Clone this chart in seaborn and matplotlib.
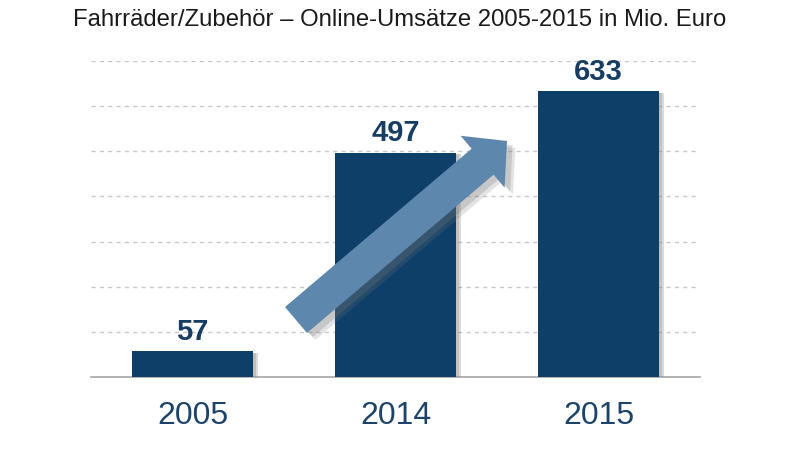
import matplotlib
matplotlib.use("Agg")
import matplotlib.pyplot as plt
import matplotlib.patheffects as pe
from matplotlib.patches import FancyArrow
from matplotlib.transforms import IdentityTransform
import seaborn as sns
import pandas as pd

title = "Fahrräder/Zubehör – Online-Umsätze 2005-2015 in Mio. Euro"
years = ["2005", "2014", "2015"]
values = [57, 497, 633]

bar_color = "#0e3f69"
label_color = "#173d62"
tick_color = "#1d4468"
arrow_color = "#5d87ad"
grid_color = "#c8c8c8"
axis_color = "#a6a6a6"

sns.set_theme(style="white")
plt.rcParams["font.family"] = ["Liberation Sans", "DejaVu Sans"]

df = pd.DataFrame({"year": years, "value": values})

fig = plt.figure(figsize=(8, 4.5), dpi=100)
ax = fig.add_axes([91 / 800, 73 / 450, 609 / 800, 316 / 450])

sns.barplot(data=df, x="year", y="value", color=bar_color, width=0.6,
            saturation=1, ax=ax, zorder=3)

shadow = [pe.SimplePatchShadow(offset=(3, -1), shadow_rgbFace="#888888", alpha=0.3),
          pe.SimplePatchShadow(offset=(2, -1), shadow_rgbFace="#888888", alpha=0.3),
          pe.Normal()]
for p in ax.patches:
    p.set_path_effects(shadow)
    p.set_edgecolor("none")

ax.set_xlim(-0.5, 2.5)
ax.set_ylim(0, 700)
ax.set_yticks(range(100, 701, 100))
ax.yaxis.grid(True, color=grid_color, linestyle=(0, (3, 3)), linewidth=1)
ax.set_axisbelow(True)
ax.tick_params(axis="y", left=False, labelleft=False)
for s in ["left", "top", "right"]:
    ax.spines[s].set_visible(False)
ax.spines["bottom"].set_color(axis_color)
ax.spines["bottom"].set_linewidth(1.2)

ax.set_xticks([-0.5, 0.5, 1.5, 2.5], minor=True)
ax.tick_params(axis="x", which="minor", length=10, width=1.2, color=axis_color, direction="out")
ax.tick_params(axis="x", which="major", length=0, pad=17, labelsize=23, labelcolor=tick_color)
ax.set_xlabel("")
ax.set_ylabel("")

for i, v in enumerate(values):
    ax.text(i, v + 12, str(v), ha="center", va="bottom", fontsize=21,
            fontweight="bold", color=label_color, zorder=5)

# decorative trend arrow (display pixels)
arr = FancyArrow(296, 130, 211, 179, width=34, head_width=68, head_length=32,
                 length_includes_head=True, transform=IdentityTransform(),
                 facecolor=arrow_color, edgecolor="none", zorder=10)
arr.set_path_effects([pe.SimplePatchShadow(offset=(6, -5), shadow_rgbFace="#777777", alpha=0.2),
                      pe.SimplePatchShadow(offset=(4, -3), shadow_rgbFace="#777777", alpha=0.25),
                      pe.Normal()])
fig.add_artist(arr)

fig.text(0.5, 1 - 20 / 450, title, ha="center", va="center", fontsize=17.2, color="#1a1a1a")

fig.savefig("out.png", dpi=100, facecolor="white")
